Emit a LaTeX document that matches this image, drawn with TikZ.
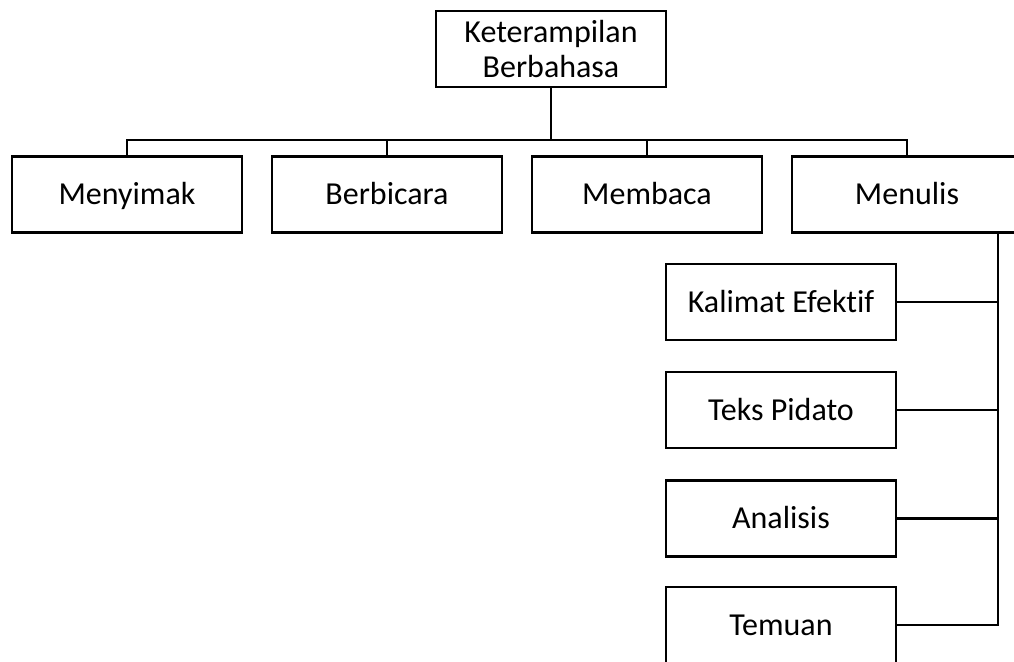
\documentclass[tikz,border=0pt]{standalone}
\usepackage{fontspec}
\setmainfont{Carlito}[Ligatures={NoCommon}]
\usepackage{tikz}

\tikzset{
  kotak/.style={draw, line width=2.8pt, minimum width=230pt, minimum height=76pt,
    inner sep=0pt, align=center, font=\fontsize{32}{35}\selectfont},
  isi/.style={text height=20.6pt, text depth=0pt},
  garis/.style={line width=2.8pt}
}

\begin{document}
\begin{tikzpicture}[x=1pt,y=-1pt]
\useasboundingbox (0,0) rectangle (1014,661);
\clip (0,0) rectangle (1014,661);

\node[kotak] (skill) at (551,49) {Keterampilan\\Berbahasa};

\node[kotak,isi] (menyimak) at (127,194.5) {Menyimak};
\node[kotak,isi] (berbicara) at (387,194.5) {Berbicara};
\node[kotak,isi] (membaca) at (647,194.5) {Membaca};
\node[kotak,isi] (menulis) at (907,194.5) {Menulis};

\node[kotak,isi] (kalimat) at (781,302) {Kalimat Efektif};
\node[kotak,isi] (pidato) at (781,410) {Teks Pidato};
\node[kotak,isi] (analisis) at (781,518.5) {Analisis};
\node[kotak,isi] (temuan) at (781,625) {Temuan};

\coordinate (bus) at (551,140);
\coordinate (spine) at (998,0);

% tingkat pertama
\draw[garis] (skill.south) -- (bus);
\draw[garis] (menyimak.north) -- (menyimak.north |- bus) -- (menulis.north |- bus) -- (menulis.north);
\draw[garis] (berbicara.north) -- (berbicara.north |- bus);
\draw[garis] (membaca.north) -- (membaca.north |- bus);

% cabang menulis
\draw[garis] (menulis.south -| spine) -- (temuan.east -| spine) -- (temuan.east);
\draw[garis] (kalimat.east) -- (kalimat.east -| spine);
\draw[garis] (pidato.east) -- (pidato.east -| spine);
\draw[garis] (analisis.east) -- (analisis.east -| spine);

\end{tikzpicture}
\end{document}
